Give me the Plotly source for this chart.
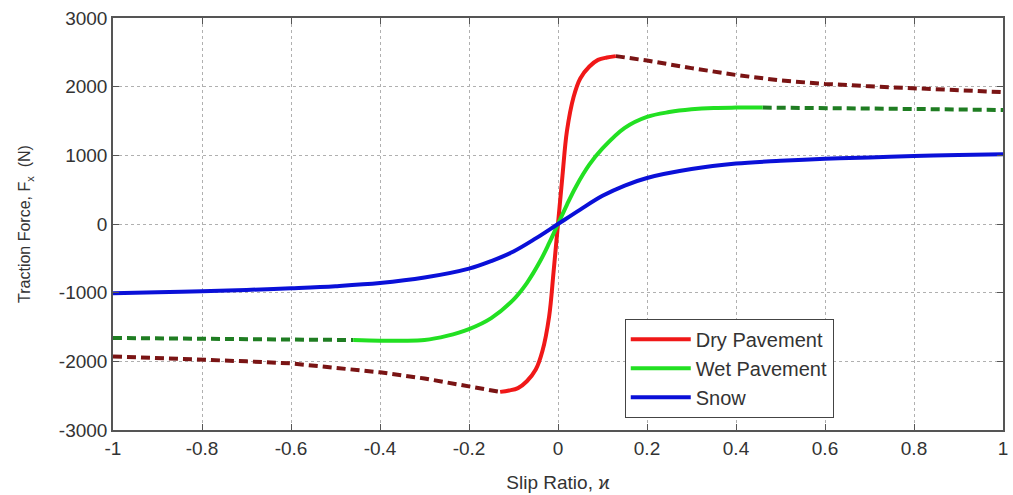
import plotly.graph_objects as go

# Dry pavement
dry_solid_x = [-0.13, -0.11, -0.09, -0.07, -0.05, -0.035, -0.02, -0.01, 0.0, 0.01, 0.02, 0.035, 0.05, 0.07, 0.09, 0.11, 0.13]
dry_solid_y = [-2445, -2425, -2390, -2290, -2120, -1850, -1350, -700, 0, 700, 1350, 1850, 2120, 2290, 2390, 2425, 2445]
dry_dash_neg_x = [-1.0, -0.9, -0.8, -0.7, -0.6, -0.5, -0.4, -0.3, -0.2, -0.13]
dry_dash_neg_y = [-1930, -1950, -1975, -2000, -2030, -2090, -2160, -2250, -2360, -2445]
dry_dash_pos_x = [0.13, 0.2, 0.3, 0.4, 0.5, 0.6, 0.7, 0.8, 0.9, 1.0]
dry_dash_pos_y = [2445, 2380, 2270, 2170, 2090, 2040, 2005, 1980, 1950, 1920]

# Wet pavement
wet_solid_x = [-0.46, -0.4, -0.35, -0.3, -0.25, -0.2, -0.15, -0.1, -0.07, -0.04, -0.02, 0.0, 0.02, 0.04, 0.07, 0.1, 0.15, 0.2, 0.25, 0.3, 0.35, 0.4, 0.46]
wet_solid_y = [-1690, -1700, -1700, -1690, -1630, -1530, -1370, -1100, -860, -540, -280, 0, 280, 540, 860, 1100, 1400, 1560, 1630, 1670, 1690, 1695, 1695]
wet_dash_neg_x = [-1.0, -0.8, -0.6, -0.46]
wet_dash_neg_y = [-1660, -1670, -1680, -1690]
wet_dash_pos_x = [0.46, 0.6, 0.8, 1.0]
wet_dash_pos_y = [1695, 1690, 1675, 1660]

# Snow
snow_x = [-1.0, -0.9, -0.8, -0.7, -0.6, -0.5, -0.4, -0.3, -0.2, -0.15, -0.1, -0.05, 0.0, 0.05, 0.1, 0.15, 0.2, 0.3, 0.4, 0.5, 0.6, 0.7, 0.8, 0.9, 1.0]
snow_y = [-1010, -995, -980, -960, -935, -905, -860, -780, -650, -540, -400, -210, 0, 210, 410, 560, 670, 800, 880, 920, 950, 970, 990, 1005, 1015]

x_ticks = [-1, -0.8, -0.6, -0.4, -0.2, 0, 0.2, 0.4, 0.6, 0.8, 1]
x_tick_text = ["-1", "-0.8", "-0.6", "-0.4", "-0.2", "0", "0.2", "0.4", "0.6", "0.8", "1"]
y_ticks = [-3000, -2000, -1000, 0, 1000, 2000, 3000]
y_tick_text = ["-3000", "-2000", "-1000", "0", "1000", "2000", "3000"]

RED = "#f01818"
GREEN = "#22e022"
BLUE = "#0a10d8"
DARKRED = "#7a1414"
DARKGREEN = "#1f7d22"

fig = go.Figure()
LW = 4
DASH = "9px,5px"
fig.add_trace(go.Scatter(x=dry_dash_neg_x, y=dry_dash_neg_y, mode="lines", showlegend=False,
                         line=dict(color=DARKRED, width=LW, dash=DASH)))
fig.add_trace(go.Scatter(x=dry_dash_pos_x, y=dry_dash_pos_y, mode="lines", showlegend=False,
                         line=dict(color=DARKRED, width=LW, dash=DASH)))
fig.add_trace(go.Scatter(x=wet_dash_neg_x, y=wet_dash_neg_y, mode="lines", showlegend=False,
                         line=dict(color=DARKGREEN, width=LW, dash=DASH)))
fig.add_trace(go.Scatter(x=wet_dash_pos_x, y=wet_dash_pos_y, mode="lines", showlegend=False,
                         line=dict(color=DARKGREEN, width=LW, dash=DASH)))
fig.add_trace(go.Scatter(x=dry_solid_x, y=dry_solid_y, mode="lines", name="Dry Pavement",
                         line=dict(color=RED, width=LW, shape="spline")))
fig.add_trace(go.Scatter(x=wet_solid_x, y=wet_solid_y, mode="lines", name="Wet Pavement",
                         line=dict(color=GREEN, width=LW, shape="spline")))
fig.add_trace(go.Scatter(x=snow_x, y=snow_y, mode="lines", name="Snow",
                         line=dict(color=BLUE, width=LW, shape="spline")))

axis_common = dict(
    showline=True, linecolor="#555555", linewidth=1.5, mirror="ticks",
    ticks="inside", ticklen=6, tickcolor="#555555",
    showgrid=True, gridcolor="#b0b0b0", griddash="dot", gridwidth=1,
    zeroline=False,
    tickfont=dict(family="Liberation Sans, Arial", size=19, color="#333333"),
)

fig.update_layout(
    width=1013, height=495,
    margin=dict(l=113, r=5, t=18, b=65),
    paper_bgcolor="white", plot_bgcolor="white",
    font=dict(family="Liberation Sans, Arial", color="#333333"),
    xaxis=dict(range=[-1, 1], tickvals=x_ticks, ticktext=x_tick_text,
               title=dict(text="Slip Ratio, ϰ", font=dict(size=19), standoff=18),
               **axis_common),
    yaxis=dict(range=[-3000, 3000], tickvals=y_ticks, ticktext=y_tick_text,
               title=dict(text="Traction Force, F<sub>x</sub>  (N)", font=dict(size=16), standoff=24),
               **axis_common),
    legend=dict(x=0.575, y=0.03, xanchor="left", yanchor="bottom",
                bgcolor="white", bordercolor="#444444", borderwidth=1,
                font=dict(size=20, color="#333333"), itemwidth=60),
)

fig.write_html("out.html")
